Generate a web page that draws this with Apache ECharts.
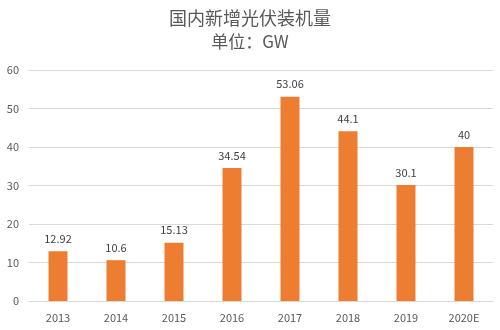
<!DOCTYPE html>
<html>
<head>
<meta charset="utf-8">
<script src="https://cdn.jsdelivr.net/npm/echarts@6/dist/echarts.min.js"></script>
<style>
  html, body { margin: 0; padding: 0; background: #fff; }
  #chart { width: 500px; height: 330px; }
</style>
</head>
<body>
<div id="chart"></div>
<script>
// Newly installed PV capacity in China, GW per year
const years = ['2013', '2014', '2015', '2016', '2017', '2018', '2019', '2020E'];
const capacity = [12.92, 10.6, 15.13, 34.54, 53.06, 44.1, 30.1, 40];
const yTicks = [0, 10, 20, 30, 40, 50, 60];

const font = '"Microsoft YaHei", "Noto Sans CJK SC", sans-serif';
const chart = echarts.init(document.getElementById('chart'), null, { renderer: 'canvas' });

chart.setOption({
  animation: false,
  backgroundColor: '#ffffff',
  title: {
    text: '国内新增光伏装机量',
    subtext: '单位：GW',
    left: 'center',
    top: 4,
    itemGap: 6,
    textStyle: { fontFamily: font, fontSize: 18, fontWeight: 'normal', color: '#595959' },
    subtextStyle: { fontFamily: font, fontSize: 17, color: '#595959' }
  },
  grid: { left: 29, right: 7, top: 70, bottom: 29, containLabel: false },
  xAxis: {
    type: 'category',
    data: years,
    axisLine: { lineStyle: { color: '#d9d9d9' } },
    axisTick: { show: false },
    axisLabel: { fontFamily: font, fontSize: 11, color: '#595959', margin: 11 }
  },
  yAxis: {
    type: 'value',
    min: yTicks[0],
    max: yTicks[yTicks.length - 1],
    interval: 10,
    axisLine: { show: false },
    axisTick: { show: false },
    splitLine: { lineStyle: { color: '#d9d9d9' } },
    axisLabel: { fontFamily: font, fontSize: 11, color: '#595959', margin: 10 }
  },
  series: [{
    type: 'bar',
    data: capacity,
    barWidth: 19,
    itemStyle: { color: '#ed7d31' },
    label: {
      show: true,
      position: 'top',
      distance: 7,
      fontFamily: font,
      fontSize: 11,
      color: '#404040'
    }
  }]
});
</script>
</body>
</html>
